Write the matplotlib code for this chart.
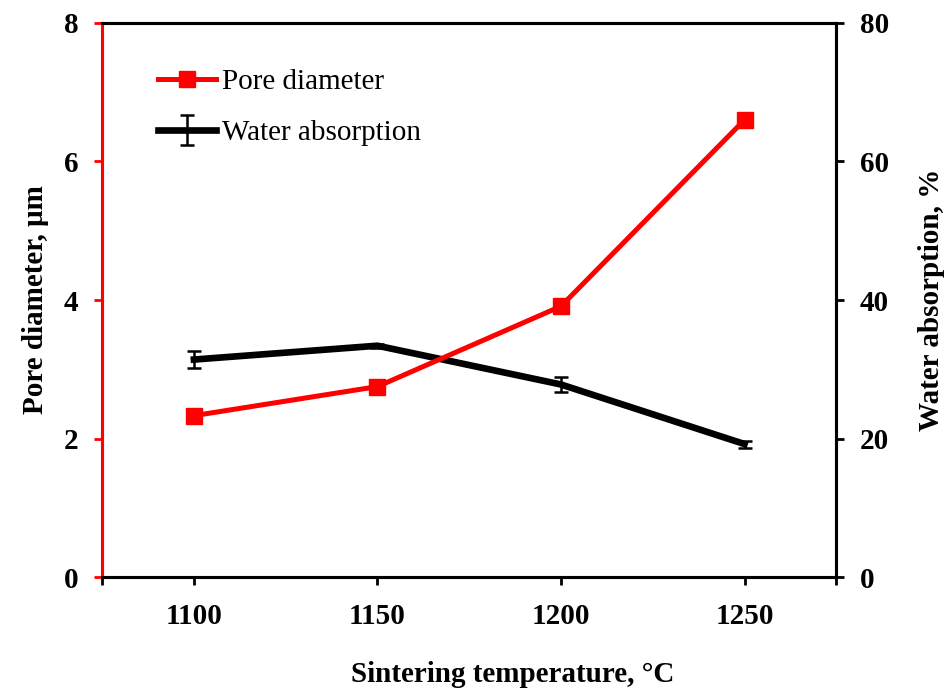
import numpy as np
import matplotlib.pyplot as plt

plt.rcParams['font.family'] = ['Liberation Serif', 'DejaVu Serif']
plt.rcParams['font.size'] = 21

temps = ['1100', '1150', '1200', '1250']
pore_diameter = [2.33, 2.75, 3.91, 6.6]
water_abs = [31.4, 33.4, 27.8, 19.2]
water_err = [1.2, 0.3, 1.1, 0.5]

x = np.arange(len(temps))

fig = plt.figure(figsize=(9.46, 6.88), dpi=100)
ax = fig.add_axes([0.108, 0.1613, 0.776, 0.8053])
ax2 = ax.twinx()
# red series drawn above the black one
ax.set_zorder(ax2.get_zorder() + 1)
ax.patch.set_visible(False)

l1, = ax.plot(x, pore_diameter, '-s', color='red', lw=3.6, ms=11.5,
              label='Pore diameter')
l2 = ax2.errorbar(x, water_abs, yerr=water_err, color='black', lw=4.8,
                  elinewidth=1.8, capsize=5, capthick=1.8,
                  label='Water absorption')

ax.set_xlim(-0.5, 3.5)
ax.set_ylim(0, 8)
ax2.set_ylim(0, 80)
ax.set_xticks(x)
ax.set_xticklabels(temps)
ax.set_xticks([-0.5, 3.5], minor=True)
ax.set_yticks([0, 2, 4, 6, 8])
ax2.set_yticks([0, 20, 40, 60, 80])

for a in (ax, ax2):
    for s in a.spines.values():
        s.set_linewidth(2.2)
        s.set_color('black')
ax.spines['left'].set_color('red')
ax2.spines['left'].set_color('red')

ax.tick_params(axis='x', which='both', direction='out', length=6, width=2, pad=13)
ax.tick_params(axis='y', direction='out', length=6, width=2, color='red', pad=11)
ax2.tick_params(axis='y', direction='out', length=6, width=2, pad=11)

for lab in ax.get_xticklabels() + ax.get_yticklabels() + ax2.get_yticklabels():
    lab.set_fontweight('bold')

ax.set_xlabel('Sintering temperature, °C', fontweight='bold')
ax.xaxis.set_label_coords(0.559, -0.152)
ax.set_ylabel('Pore diameter, μm', fontweight='bold', labelpad=11)
ax2.set_ylabel('Water absorption, %', fontweight='bold', labelpad=21)

ax.legend([l1, l2], ['Pore diameter', 'Water absorption'], loc='upper left',
          bbox_to_anchor=(0.04, 0.965), frameon=False, handlelength=2.0,
          handletextpad=0.2, labelspacing=0.85, fontsize=21)

plt.savefig('out.png', dpi=100)
